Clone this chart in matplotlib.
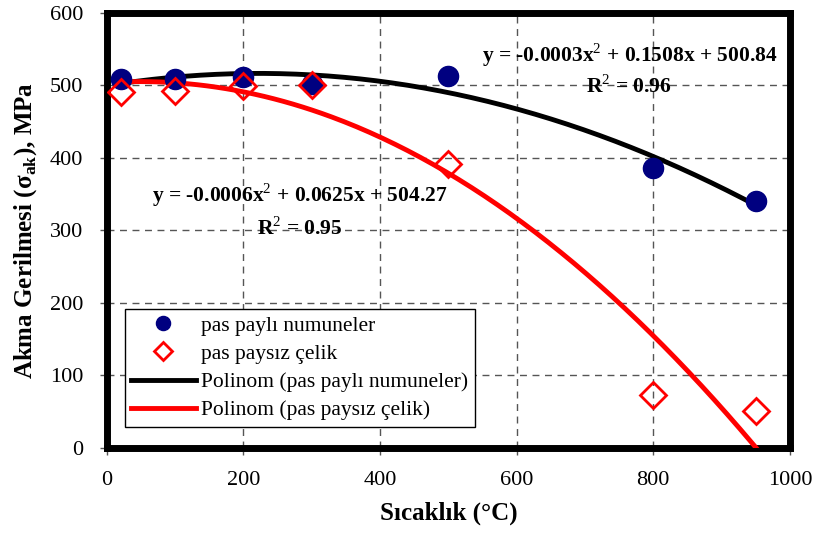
import numpy as np
import matplotlib
matplotlib.use('Agg')
import matplotlib.pyplot as plt

plt.rcParams['font.family'] = ['Liberation Serif', 'DejaVu Serif']
plt.rcParams['mathtext.fontset'] = 'custom'
plt.rcParams['mathtext.rm'] = 'Liberation Serif'
plt.rcParams['mathtext.bf'] = 'Liberation Serif:bold'

# data
sicaklik = [20, 100, 200, 300, 500, 800, 950]
pas_payli = [509, 509, 511, 502, 513, 386, 341]
pas_paysiz = [491, 492, 499, 501, 392, 73, 51]

# trendline (2nd order polynomial, like Excel)
xs = np.linspace(min(sicaklik), max(sicaklik), 200)
k1 = np.polyfit(sicaklik, pas_payli, 2)
k2 = np.polyfit(sicaklik, pas_paysiz, 2)

fig = plt.figure(figsize=(8.16, 5.35), dpi=100)
ax = fig.add_axes([0.131, 0.163, 0.837, 0.813])

ax.plot(sicaklik, pas_payli, 'o', color='#000080', markersize=14.5,
        label='pas paylı numuneler', zorder=4)
ax.plot(sicaklik, pas_paysiz, 'D', color='red', markerfacecolor='none',
        markeredgewidth=2, markersize=13.5, label='pas paysız çelik', zorder=5)
ax.plot(xs, np.polyval(k1, xs), color='black', lw=3.5,
        label='Polinom (pas paylı numuneler)', zorder=3)
ax.plot(xs, np.polyval(k2, xs), color='red', lw=3.5,
        label='Polinom (pas paysız çelik)', zorder=3)

ax.text(765, 542, 'y = -0.0003x$^2$ + 0.1508x + 500.84', ha='center', va='center',
        fontsize=15.5, fontweight='bold')
ax.text(765, 498, 'R$^2$ = 0.96', ha='center', va='center', fontsize=15.5, fontweight='bold')
ax.text(283, 349, 'y = -0.0006x$^2$ + 0.0625x + 504.27', ha='center', va='center',
        fontsize=15.5, fontweight='bold')
ax.text(283, 302, 'R$^2$ = 0.95', ha='center', va='center', fontsize=15.5, fontweight='bold')

ax.set_xlim(0, 1000)
ax.set_ylim(0, 600)
ax.set_xticks(range(0, 1001, 200))
ax.set_yticks(range(0, 601, 100))
ax.tick_params(labelsize=16, width=1, length=5, color='#555555')
ax.tick_params(axis='x', pad=12)
ax.tick_params(axis='y', pad=12)
ax.grid(True, linestyle=(0, (5, 4)), color='#555555', lw=1)
for s in ax.spines.values():
    s.set_linewidth(5)
    s.set_color('black')

ax.set_xlabel('Sıcaklık (°C)', fontsize=18, fontweight='bold', labelpad=8)
ax.set_ylabel('Akma Gerilmesi (σ$_{\\mathbf{ak}}$), MPa', fontsize=18,
              fontweight='bold', labelpad=8)

leg = ax.legend(loc='lower left', bbox_to_anchor=(0.026, 0.048), fontsize=15.5,
                frameon=True, fancybox=False, edgecolor='black', framealpha=1,
                borderpad=0.3, labelspacing=0.38, handlelength=3.0, handletextpad=0.25,
                numpoints=1, markerscale=0.7, borderaxespad=0)
leg.get_frame().set_linewidth(1)

plt.savefig('out.png')
